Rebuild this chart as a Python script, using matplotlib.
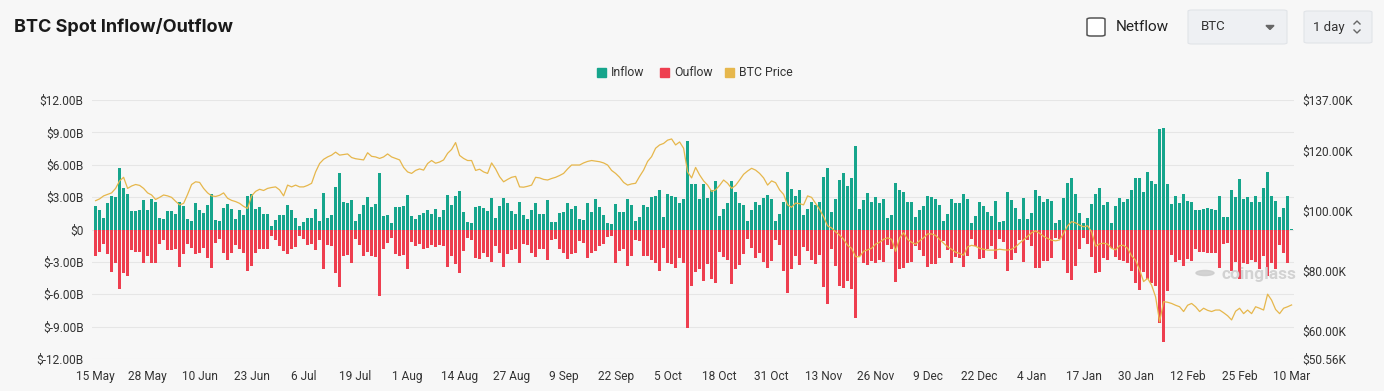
import matplotlib
matplotlib.use('Agg')
import numpy as np
import pandas as pd
import matplotlib.pyplot as plt
from matplotlib.patches import FancyBboxPatch, Rectangle, Circle
from matplotlib.lines import Line2D
from matplotlib.ticker import FuncFormatter, FixedLocator

# ---- data (billions USD / thousands USD) ----
dates = pd.date_range('2025-05-15', '2026-03-10', freq='D')

inflow = [
    2.16, 1.79, 1.05, 2.41, 3.15, 2.99, 5.68, 3.83, 3.33, 1.67, 1.67, 1.85, 2.69, 1.85, 2.78, 2.56, 1.11, 0.99, 1.67, 1.67,
    1.45, 2.59, 2.19, 0.93, 0.80, 2.47, 1.85, 1.54, 2.28, 3.27, 0.90, 0.83, 1.98, 2.35, 1.91, 0.93, 1.85, 1.30, 3.09, 3.27,
    1.91, 2.10, 1.39, 1.42, 0.37, 0.86, 1.33, 1.36, 2.31, 1.79,
    1.08, 0.37, 0.74, 1.11, 1.11, 1.94, 0.77, 3.36, 1.11, 1.30, 3.95, 5.19, 2.59, 2.41, 2.72, 0.77, 1.48, 2.28, 3.02, 2.04,
    2.35, 5.25, 1.23, 1.36, 0.56, 2.04, 2.10, 2.16, 3.21, 1.23, 0.93, 1.36, 1.51, 1.79, 1.42, 1.91, 1.14, 1.85, 3.21, 2.28,
    3.15, 3.58, 1.60, 0.74, 0.62, 2.10, 2.22, 1.98, 1.67, 2.96,
    1.11, 2.16, 2.96, 2.47, 1.67, 1.48, 2.59, 1.36, 0.99, 1.85, 2.41, 1.48, 1.48, 2.69, 0.68, 0.74, 1.54, 1.60, 2.41, 1.91,
    2.22, 0.99, 0.86, 2.41, 1.60, 2.78, 2.10, 1.36, 0.62, 0.49, 2.38, 1.60, 1.60, 2.84, 2.31, 0.80, 1.17, 2.28, 2.10, 2.99,
    3.09, 3.64, 1.17, 3.30, 3.15, 2.99, 2.47, 2.78, 8.24, 4.26,
    4.26, 2.84, 4.26, 2.90, 3.64, 4.51, 1.23, 1.91, 2.41, 4.51, 3.52, 2.41, 2.28, 0.77, 1.79, 2.53, 2.31, 2.96, 3.21, 2.78,
    0.80, 1.48, 2.53, 5.31, 3.77, 3.09, 3.64, 1.36, 1.94, 2.59, 2.31, 2.53, 4.88, 5.74, 1.60, 2.78, 4.57, 5.25, 4.07, 4.81,
    7.72, 1.91, 2.72, 3.40, 2.53, 3.02, 2.47, 2.78, 1.05, 1.36,
    4.32, 3.70, 3.46, 2.53, 2.53, 1.17, 1.79, 2.22, 3.15, 3.02, 2.78, 2.28, 0.80, 1.48, 2.78, 2.41, 2.41, 3.33, 2.84, 0.62,
    1.23, 2.53, 2.22, 1.60, 1.23, 2.65, 0.68, 0.80, 3.52, 2.72, 1.98, 0.93, 2.90, 0.93, 1.54, 3.70, 3.09, 2.53, 2.78, 2.65,
    0.62, 0.86, 2.90, 4.32, 4.81, 3.30, 1.54, 0.62, 1.05, 2.35,
    3.33, 3.83, 2.31, 2.59, 0.62, 2.16, 2.90, 2.59, 2.84, 3.70, 4.78, 4.78, 3.46, 5.37, 4.48, 4.26, 9.32, 9.41, 4.20, 2.38,
    3.15, 2.41, 3.30, 2.62, 2.53, 1.79, 1.85, 1.91, 1.98, 1.91, 1.79, 3.15, 1.17, 1.14, 3.70, 3.02, 4.69, 2.78, 3.02, 2.59,
    3.09, 2.59, 3.89, 5.37, 3.15, 2.62, 1.17, 1.98, 3.15, 0.08,
]

outflow = [
    2.47, 2.07, 1.30, 2.28, 3.95, 3.09, 5.49, 4.01, 4.32, 1.94, 2.07, 2.10, 3.15, 2.41, 3.15, 3.09, 1.30, 0.99, 1.94, 1.94,
    1.79, 3.46, 2.25, 1.30, 1.67, 2.28, 2.16, 1.70, 2.62, 3.61, 1.23, 0.86, 2.16, 2.84, 2.16, 1.39, 1.79, 2.22, 3.86, 3.40,
    2.22, 1.85, 1.79, 1.85, 0.62, 0.93, 1.54, 2.01, 2.31, 1.85,
    1.60, 0.56, 0.86, 1.48, 1.30, 1.94, 0.93, 3.64, 1.42, 1.54, 4.07, 5.37, 2.47, 2.38, 3.09, 0.86, 1.48, 2.47, 2.10, 2.47,
    2.53, 6.17, 1.79, 1.23, 0.77, 2.31, 2.41, 2.38, 3.64, 1.17, 1.54, 1.30, 1.79, 1.70, 1.48, 1.60, 1.48, 1.54, 3.46, 2.41,
    3.24, 4.01, 2.01, 0.77, 0.93, 2.62, 2.72, 2.22, 2.53, 2.99,
    1.54, 2.22, 3.46, 2.31, 1.94, 1.79, 3.09, 1.30, 1.48, 2.16, 2.56, 1.85, 1.85, 2.78, 0.93, 0.86, 1.79, 2.22, 2.72, 2.31,
    2.16, 1.08, 1.23, 2.62, 2.16, 2.01, 1.54, 1.30, 0.68, 0.62, 3.15, 2.01, 1.79, 3.40, 2.47, 0.93, 1.08, 2.41, 2.47, 2.78,
    3.09, 3.86, 1.70, 3.09, 3.24, 3.61, 2.62, 3.09, 9.14, 5.25,
    3.95, 3.70, 4.78, 3.24, 4.57, 5.00, 2.10, 2.56, 2.84, 5.09, 3.70, 3.33, 2.31, 0.86, 1.70, 2.62, 2.16, 3.02, 3.55, 2.93,
    0.93, 1.39, 3.86, 5.86, 3.70, 2.47, 3.33, 1.60, 2.01, 2.84, 3.24, 2.38, 5.31, 6.94, 1.85, 3.40, 5.25, 5.40, 4.78, 5.49,
    8.18, 2.47, 3.15, 3.30, 2.93, 3.09, 2.78, 3.02, 1.39, 1.79,
    4.88, 3.70, 3.55, 3.09, 3.02, 1.54, 1.91, 2.47, 3.46, 3.18, 3.18, 2.62, 1.08, 1.91, 3.09, 2.56, 2.62, 3.46, 2.47, 0.86,
    1.54, 2.72, 2.62, 1.85, 1.54, 2.72, 0.86, 1.17, 3.86, 2.84, 2.16, 0.93, 3.02, 0.93, 1.54, 3.55, 3.55, 2.93, 2.93, 2.62,
    0.77, 0.86, 2.84, 4.01, 4.69, 3.40, 1.85, 0.77, 1.30, 2.56,
    4.07, 3.95, 2.62, 2.78, 1.70, 2.53, 2.84, 2.93, 3.09, 3.86, 5.00, 5.56, 3.95, 4.57, 4.94, 5.25, 8.64, 10.43, 5.71, 2.38,
    3.02, 2.78, 3.40, 2.72, 2.93, 1.85, 2.10, 2.10, 2.16, 2.22, 2.16, 3.61, 1.30, 1.23, 3.86, 3.02, 4.57, 3.09, 3.24, 2.84,
    3.02, 3.70, 2.47, 4.32, 3.09, 3.64, 1.39, 2.16, 3.15, 0.05,
]

btc_price = [
    103.4, 104, 105, 105.5, 106, 107.5, 110, 111.2, 107.5, 108.3,
    108.8, 108.5, 107.5, 106, 105.3, 103.8, 104.5, 105.3, 105, 104.5,
    103.2, 102, 102.5, 105.5, 108.8, 109.7, 109.5, 107.5, 106, 105,
    104.8, 105.2, 106, 104.2, 103.5, 103.1, 102.5, 101.5, 100.8, 105,
    106.5, 107.2, 106.8, 107.5, 107.8, 108, 107, 105, 108.6, 108,
    108.6, 108, 108, 108.5, 109.2, 113, 115.8, 117.2, 118, 118.6,
    119.6, 118.6, 118.8, 119, 117.8, 117.4, 117.2, 117, 119.4, 118.2,
    118, 117.5, 118, 119, 118, 117.5, 117, 114.5, 113, 112.5,
    113.5, 114, 113.6, 115.8, 116.8, 115.9, 116.3, 117, 119.2, 120.5,
    122.8, 118.5, 117.5, 116.8, 116.8, 113.5, 113.9, 113, 112.5, 116,
    114, 111.4, 109.7, 110.5, 111.2, 111.5, 108, 107.9, 108.2, 108.6,
    111.2, 111, 110.5, 110.3, 110.8, 111.2, 111.8, 112.5, 114, 115.3,
    115.3, 115.3, 116, 116.5, 116.8, 116.6, 116.4, 116, 115.3, 113.5,
    112.5, 111.2, 109.5, 108.6, 109, 109.2, 111.5, 113.6, 116.5, 118.1,
    120.9, 122, 122.5, 123.6, 124, 122, 123, 120.9, 113, 111,
    114.5, 112, 110, 108.6, 106.5, 107, 108.5, 110.3, 109.2, 107.5,
    108.5, 110.3, 112.2, 113.3, 114.2, 113.6, 112.5, 111, 108.6, 110,
    109.4, 107, 105.5, 102, 101.2, 102.6, 102.4, 102, 105, 104.5,
    102.5, 100.5, 98, 95, 94.3, 93, 91.9, 90.5, 88.5, 87.5,
    84.7, 84.7, 86.5, 87, 87.5, 88.9, 89.5, 90.5, 91, 90.5,
    86.5, 91, 92.7, 90.5, 89.5, 88.9, 90, 91, 92.3, 92.3,
    91.8, 90.5, 89.2, 88, 87.2, 86.2, 85.8, 85.2, 88, 88.5,
    88.2, 87.5, 87.2, 86.9, 86.9, 86.9, 87.2, 87, 86.9, 87.2,
    88, 89.2, 90.3, 91.5, 92.7, 93.3, 92.5, 91.5, 90.8, 90.2,
    90, 90.3, 92.5, 95, 96.4, 96, 95.2, 94.7, 95, 93,
    88.2, 89, 89.2, 88.9, 87.5, 87, 88.4, 88.5, 87.5, 85,
    83.5, 80.3, 76.4, 77.5, 75.2, 71.3, 63, 69.7, 69.5, 69.1,
    68.5, 68, 66.4, 68.5, 69.1, 68, 66.4, 67.5, 66.8, 66.4,
    66.9, 66.9, 66, 65, 63.6, 66.5, 67.5, 65.7, 66.9, 65.7,
    68, 67.5, 66.9, 72.2, 70.2, 67.1, 65.7, 67.5, 68, 68.6,
]

flow_ticks = [-12, -9, -6, -3, 0, 3, 6, 9, 12]
price_ticks = [50.56, 60, 80, 100, 120, 137]
legend_labels = ['Inflow', 'Ouflow', 'BTC Price']

# ---- style ----
TEAL = '#16a58c'
RED = '#ee3e4f'
GOLD = '#e6b74c'
BG = '#f7f7f7'
TXT = '#333333'
W, H = 1384, 391

plt.rcParams['font.family'] = ['Roboto', 'DejaVu Sans']


def fx(px):
    return px / W


def fy(py):
    return 1 - py / H


fig = plt.figure(figsize=(W / 100, H / 100), dpi=100, facecolor=BG)
ax = fig.add_axes([fx(92), fy(359), (1294 - 92) / W, 259 / H])
ax.set_facecolor(BG)

x = np.arange(len(dates))
ax.bar(x, inflow, width=0.64, color=TEAL, zorder=2)
ax.bar(x, -np.array(outflow), width=0.64, color=RED, zorder=2)
ax.set_xlim(-0.9, len(dates) - 0.4)
ax.set_ylim(-12, 12)

# left axis
ax.yaxis.set_major_locator(FixedLocator(flow_ticks))
ax.yaxis.set_major_formatter(FuncFormatter(lambda v, p: '$0' if v == 0 else '$%.2fB' % v))
ax.grid(axis='y', color='#e6e6e6', lw=0.8, zorder=0)
ax.tick_params(axis='y', length=0, pad=6, labelsize=8.6, labelcolor=TXT)

# x ticks every 13 days
tick_pos = list(range(0, len(dates), 13))
ax.set_xticks(tick_pos)
ax.set_xticklabels([f'{dates[i].day} {dates[i].strftime("%b")}' for i in tick_pos])
ax.tick_params(axis='x', length=0, pad=8, labelsize=8.6, labelcolor=TXT)
for s in ax.spines.values():
    s.set_visible(False)

# right axis with price
ax2 = ax.twinx()
ax2.plot(x, btc_price, color=GOLD, lw=0.9, zorder=3)
ax2.set_ylim(50.56, 137)
ax2.yaxis.set_major_locator(FixedLocator(price_ticks))
ax2.yaxis.set_major_formatter(FuncFormatter(lambda v, p: '$%.2fK' % v))
ax2.tick_params(axis='y', length=0, pad=6, labelsize=8.6, labelcolor=TXT)
for s in ax2.spines.values():
    s.set_visible(False)

# watermark
fig.patches.append(Circle((fx(1205), fy(273)), 9 / W, transform=fig.transFigure,
                          color='#cbcbcb', alpha=0.8, zorder=1))
fig.text(fx(1221), fy(275), 'coinglass', fontsize=12.5, color='#d2d2d2', va='center',
         ha='left', weight='bold', zorder=1)

# title
fig.text(fx(14), fy(27), 'BTC Spot Inflow/Outflow', fontsize=13, weight='bold',
         family=['Inter', 'DejaVu Sans'], color='#1a1a1a', va='center', ha='left')

# legend
leg_x = [597, 660, 725]
for lx, lab, col in zip(leg_x, legend_labels, [TEAL, RED, GOLD]):
    fig.patches.append(Rectangle((fx(lx), fy(77)), 9 / W, 9 / H, transform=fig.transFigure,
                                 color=col))
    fig.text(fx(lx + 14), fy(72.5), lab, fontsize=8.8, color=TXT, va='center', ha='left')

# header controls
fig.patches.append(FancyBboxPatch((fx(1087), fy(36)), 18 / W, 18 / H, transform=fig.transFigure,
                                  boxstyle='round,pad=0,rounding_size=0.003', fc='white',
                                  ec='#555555', lw=1.1))
fig.text(fx(1116), fy(27), 'Netflow', fontsize=11, color='#222222', va='center', ha='left')

fig.patches.append(FancyBboxPatch((fx(1188), fy(44)), 99 / W, 34 / H, transform=fig.transFigure,
                                  boxstyle='round,pad=0,rounding_size=0.003', fc='#eef0f3',
                                  ec='#e1e4e8', lw=0.8))
fig.text(fx(1201), fy(27), 'BTC', fontsize=9.5, color='#333333', va='center', ha='left')
fig.patches.append(plt.Polygon([[fx(1266), fy(25.5)], [fx(1274), fy(25.5)], [fx(1270), fy(29.5)]],
                               closed=True, transform=fig.transFigure, color='#666666'))

fig.patches.append(FancyBboxPatch((fx(1304), fy(43)), 68 / W, 32 / H, transform=fig.transFigure,
                                  boxstyle='round,pad=0,rounding_size=0.003', fc='#eef0f3',
                                  ec='#e1e4e8', lw=0.8))
fig.text(fx(1313), fy(27), '1 day', fontsize=9.5, color='#333333', va='center', ha='left')
for pts in ([(1354, 24), (1357, 21), (1360, 24)], [(1354, 30), (1357, 33), (1360, 30)]):
    fig.lines.append(Line2D([fx(p[0]) for p in pts], [fy(p[1]) for p in pts],
                            transform=fig.transFigure, color='#666666', lw=1))

fig.savefig('out.png', dpi=100, facecolor=BG)
